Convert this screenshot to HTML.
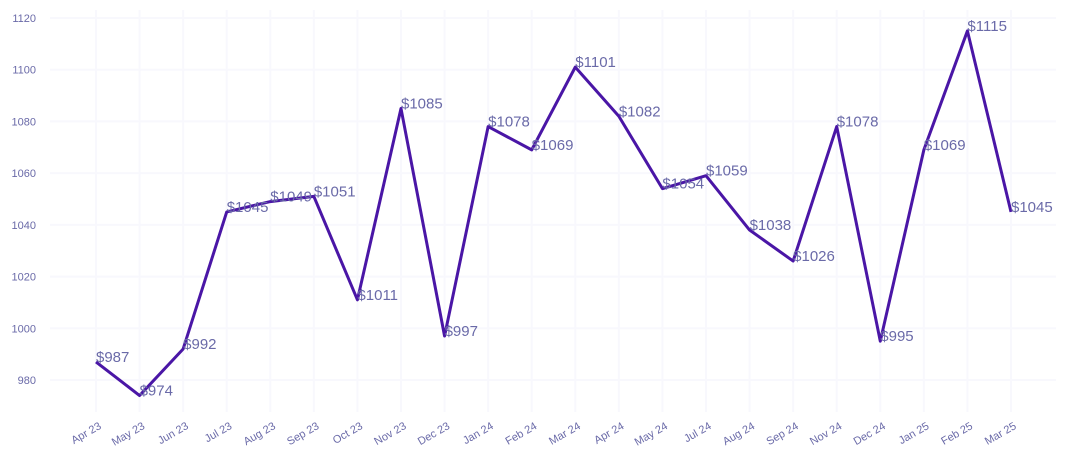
<!DOCTYPE html>
<html><head><meta charset="utf-8"><style>
body{margin:0;background:#fff;font-family:"Liberation Sans",sans-serif;}
</style></head><body>
<svg id="c" width="1070" height="465"></svg>
<script>
const categories=["Apr 23","May 23","Jun 23","Jul 23","Aug 23","Sep 23","Oct 23","Nov 23","Dec 23","Jan 24","Feb 24","Mar 24","Apr 24","May 24","Jul 24","Aug 24","Sep 24","Nov 24","Dec 24","Jan 25","Feb 25","Mar 25"];
const values=[987,974,992,1045,1049,1051,1011,1085,997,1078,1069,1101,1082,1054,1059,1038,1026,1078,995,1069,1115,1045];
const yTicks=[980,1000,1020,1040,1060,1080,1100,1120];
const NS="http://www.w3.org/2000/svg";
const svg=document.getElementById('c');
const x0=96,dx=(1011-96)/(categories.length-1);
const xs=i=>x0+i*dx;
const ys=v=>380-(v-980)*(362/140);
function mk(t,a,p){const e=document.createElementNS(NS,t);for(const k in a)e.setAttribute(k,a[k]);(p||svg).appendChild(e);return e;}
const grid=mk('g',{});


yTicks.forEach(v=>{
  const l=mk('line',{x1:50,x2:1056,y1:ys(v),y2:ys(v),stroke:'#f8f8fd','stroke-width':2},grid);
  
  
  const t=mk('text',{x:36,y:ys(v)+4,'text-anchor':'end','font-size':11,fill:'#6a6aa8'});
  t.textContent=v;
  
  
});
categories.forEach((c,i)=>{
  const l=mk('line',{x1:xs(i),x2:xs(i),y1:10,y2:412,stroke:'#f8f8fd','stroke-width':2},grid);
  
  
  const t=mk('text',{x:xs(i)+6,y:428,'text-anchor':'end','font-size':11,fill:'#6a6aa8',transform:`rotate(-30 ${xs(i)+6} 428)`});
  t.textContent=c;
  
  
});
const p=mk('polyline',{points:values.map((v,i)=>xs(i)+','+ys(v)).join(' '),fill:'none',stroke:'#4a16a6','stroke-width':3,'stroke-linejoin':'round'});


values.forEach((v,i)=>{
  const t=mk('text',{x:xs(i),y:ys(v),'font-size':15,fill:'#6a6aa8'});
  t.textContent='$'+v;
  
  
});
</script>
</body></html>
